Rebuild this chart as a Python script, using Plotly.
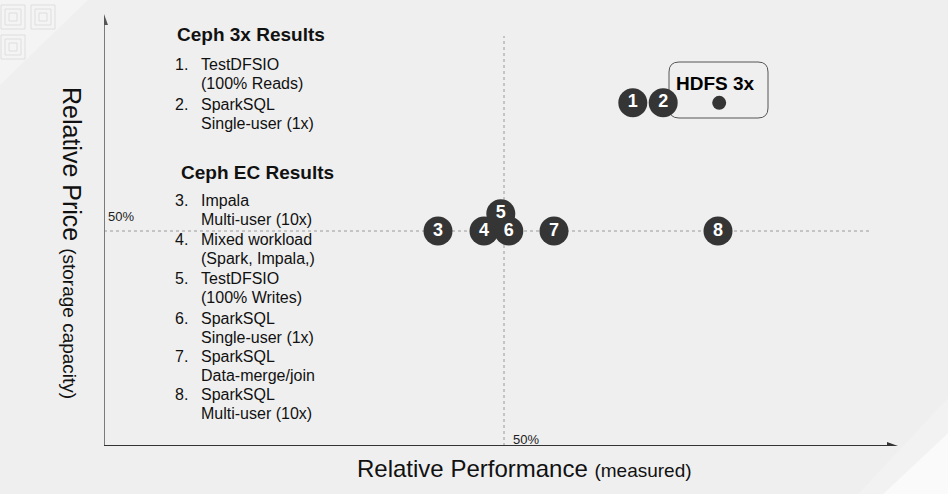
import plotly.graph_objects as go

# ---- data ----
point_labels = ["1", "2", "3", "5", "4", "6", "7", "8"]   # draw order
point_perf = [66.1, 69.9, 41.75, 49.6, 47.5, 50.6, 56.25, 76.75]
point_price = [79.8, 79.8, 50.0, 54.0, 50.0, 50.0, 50.0, 50.0]
hdfs_perf = [76.9]
hdfs_price = [79.8]
hdfs_label = "HDFS 3x"

ref_perf = 50
ref_price = 50
ref_label = "50%"

heading_3x = "Ceph 3x Results"
heading_ec = "Ceph EC Results"
list_nums = ["1.", "2.", "3.", "4.", "5.", "6.", "7.", "8."]
list_lines = [
    ["TestDFSIO", "(100% Reads)"],
    ["SparkSQL", "Single-user (1x)"],
    ["Impala", "Multi-user (10x)"],
    ["Mixed workload", "(Spark, Impala,)"],
    ["TestDFSIO", "(100% Writes)"],
    ["SparkSQL", "Single-user (1x)"],
    ["SparkSQL", "Data-merge/join"],
    ["SparkSQL", "Multi-user (10x)"],
]
# pixel rows of list text (first line of each item)
list_rows_px = [64, 104, 200, 239, 278, 318, 356, 394]
line2_offset_px = 19

x_title = "Relative Performance"
x_title_sub = "(measured)"
y_title = "Relative Price"
y_title_sub = "(storage capacity)"

# ---- geometry ----
W, H = 948, 494
ML, MR, MT, MB = 104, 40, 8, 48
PXX = 8.0     # px per x unit
PXY = 4.3     # px per y unit
X0PX, Y0PX = ML, H - MB   # origin pixel (104, 446)
XR = [0, (W - ML - MR) / PXX]
YR = [0, (H - MT - MB) / PXY]


def dx(px):
    return (px - X0PX) / PXX


def dy(py):
    return (Y0PX - py) / PXY


def pxpaper(px, py):
    return (px - ML) / (W - ML - MR), (Y0PX - py) / (H - MT - MB)


FONT = "Liberation Sans, Arial, sans-serif"
BG = "#efefef"
DARK = "#353535"

fig = go.Figure()

for lab, xv, yv in zip(point_labels, point_perf, point_price):
    fig.add_trace(go.Scatter(
        x=[xv], y=[yv], mode="markers+text", text=[lab],
        textposition="middle center",
        textfont=dict(color="white", size=18, family=FONT, weight="bold"),
        marker=dict(size=29, color=DARK, line=dict(width=0)),
        cliponaxis=False, showlegend=False, hoverinfo="skip"))

fig.add_trace(go.Scatter(
    x=hdfs_perf, y=hdfs_price, mode="markers",
    marker=dict(size=14, color=DARK), cliponaxis=False,
    showlegend=False, hoverinfo="skip"))

shapes = []


def ppath(pts):
    s = ""
    for k, (px, py) in enumerate(pts):
        a, b = pxpaper(px, py)
        s += ("M" if k == 0 else "L") + " {:.5f},{:.5f} ".format(a, b)
    return s + "Z"


# decorative background: top-left tile pattern
shapes.append(dict(type="path", xref="paper", yref="paper", layer="below",
                   path=ppath([(0, 0), (88, 0), (0, 85)]),
                   fillcolor="#f4f4f4", line=dict(width=0)))
for i in range(4):
    for j in range(4):
        cx, cy = 13 + 30 * i, 17 + 30 * j
        if cx + cy > 80:
            continue
        for half in (12, 8, 4):
            x0, y0 = pxpaper(cx - half, cy - half)
            x1, y1 = pxpaper(cx + half, cy + half)
            shapes.append(dict(type="rect", xref="paper", yref="paper", layer="below",
                               x0=x0, y0=y0, x1=x1, y1=y1,
                               line=dict(color="#dedede", width=1)))

# bottom-right light band
shapes.append(dict(type="path", xref="paper", yref="paper", layer="below",
                   path=ppath([(948, 398), (858, 494), (883, 494), (948, 433)]),
                   fillcolor="#f2f2f2", line=dict(width=0)))
shapes.append(dict(type="path", xref="paper", yref="paper", layer="below",
                   path=ppath([(948, 433), (883, 494), (948, 494)]),
                   fillcolor="#fafafa", line=dict(width=0)))

# reference dotted lines
shapes.append(dict(type="line", xref="x", yref="y", x0=ref_perf, x1=ref_perf,
                   y0=0, y1=dy(36), line=dict(color="#9a9a9a", width=1, dash="dot"),
                   layer="below"))
shapes.append(dict(type="line", xref="x", yref="y", x0=0, x1=dx(870),
                   y0=ref_price, y1=ref_price,
                   line=dict(color="#9a9a9a", width=1, dash="dot"), layer="below"))

# axes with arrows
shapes.append(dict(type="line", xref="x", yref="y", x0=0, x1=0, y0=0, y1=dy(22),
                   line=dict(color="#7a7a7a", width=2)))
shapes.append(dict(type="path", xref="x", yref="y",
                   path="M {},{} L {},{} L {},{} Z".format(
                       dx(104 - 4), dy(25), dx(104), dy(14), dx(104 + 4), dy(25)),
                   fillcolor="#555555", line=dict(width=0)))
shapes.append(dict(type="line", xref="x", yref="y", x0=0, x1=dx(890), y0=0, y1=0,
                   line=dict(color="#333333", width=2)))
shapes.append(dict(type="path", xref="x", yref="y",
                   path="M {},{} L {},{} L {},{} Z".format(
                       dx(887), dy(446 - 4), dx(898), dy(446), dx(887), dy(446 + 4)),
                   fillcolor="#333333", line=dict(width=0)))

# HDFS rounded box
bx0, bx1, by0, by1 = dx(669), dx(768), dy(118), dy(62)
rx, ry = 10 / PXX, 10 / PXY
box_path = (
    f"M {bx0 + rx},{by1} L {bx1 - rx},{by1} Q {bx1},{by1} {bx1},{by1 - ry} "
    f"L {bx1},{by0 + ry} Q {bx1},{by0} {bx1 - rx},{by0} "
    f"L {bx0 + rx},{by0} Q {bx0},{by0} {bx0},{by0 + ry} "
    f"L {bx0},{by1 - ry} Q {bx0},{by1} {bx0 + rx},{by1} Z")
shapes.append(dict(type="path", xref="x", yref="y", path=box_path, layer="below",
                   line=dict(color="#555555", width=1)))

ann = []
ann.append(dict(x=dx(715), y=dy(83), xref="x", yref="y", text=hdfs_label,
                xanchor="center", yanchor="middle",
                showarrow=False, font=dict(family=FONT, size=19, color="#000", weight="bold")))

ann.append(dict(x=dx(121), y=dy(216), xref="x", yref="y", text=ref_label,
                xanchor="center", yanchor="middle",
                showarrow=False, font=dict(family=FONT, size=13, color="#222")))
ann.append(dict(x=dx(526), y=dy(439), xref="x", yref="y", text=ref_label,
                xanchor="center", yanchor="middle",
                showarrow=False, font=dict(family=FONT, size=13, color="#222")))

ann.append(dict(x=dx(175), y=dy(34), xref="x", yref="y", text=heading_3x,
                xanchor="left", yanchor="middle", showarrow=False,
                font=dict(family=FONT, size=19, color="#111", weight="bold")))
ann.append(dict(x=dx(179), y=dy(172), xref="x", yref="y", text=heading_ec,
                xanchor="left", yanchor="middle", showarrow=False,
                font=dict(family=FONT, size=19, color="#111", weight="bold")))

for num, lines, rowpx in zip(list_nums, list_lines, list_rows_px):
    ann.append(dict(x=dx(173), y=dy(rowpx), xref="x", yref="y", text=num,
                    xanchor="left", yanchor="middle", showarrow=False,
                    font=dict(family=FONT, size=16, color="#111")))
    for k, ln in enumerate(lines):
        ann.append(dict(x=dx(199), y=dy(rowpx + k * line2_offset_px), xref="x", yref="y",
                        text=ln, xanchor="left", yanchor="middle", showarrow=False,
                        font=dict(family=FONT, size=16, color="#111")))

tx, ty = pxpaper(524, 469)
ann.append(dict(x=tx, y=ty, xref="paper", yref="paper", showarrow=False,
                xanchor="center", yanchor="middle",
                text=f"{x_title} <span style='font-size:19px'>{x_title_sub}</span>",
                font=dict(family=FONT, size=24, color="#111")))
tx, ty = pxpaper(72, 243)
ann.append(dict(x=tx, y=ty, xref="paper", yref="paper", showarrow=False, textangle=90,
                xanchor="center", yanchor="middle",
                text=f"{y_title} <span style='font-size:19px'>{y_title_sub}</span>",
                font=dict(family=FONT, size=25, color="#111")))

fig.update_layout(
    width=W, height=H,
    margin=dict(l=ML, r=MR, t=MT, b=MB, pad=0),
    paper_bgcolor=BG, plot_bgcolor="rgba(0,0,0,0)",
    xaxis=dict(range=XR, visible=False, fixedrange=True),
    yaxis=dict(range=YR, visible=False, fixedrange=True),
    shapes=shapes, annotations=ann, showlegend=False,
)

fig.write_html("out.html", config={"displayModeBar": False})

# remove default page margin so the figure sits at the window's top-left corner
with open("out.html", "r", encoding="utf-8") as f:
    html = f.read()
html = html.replace("<head>", "<head><style>html,body{margin:0;padding:0;background:#efefef;overflow:hidden}</style>", 1)
with open("out.html", "w", encoding="utf-8") as f:
    f.write(html)
